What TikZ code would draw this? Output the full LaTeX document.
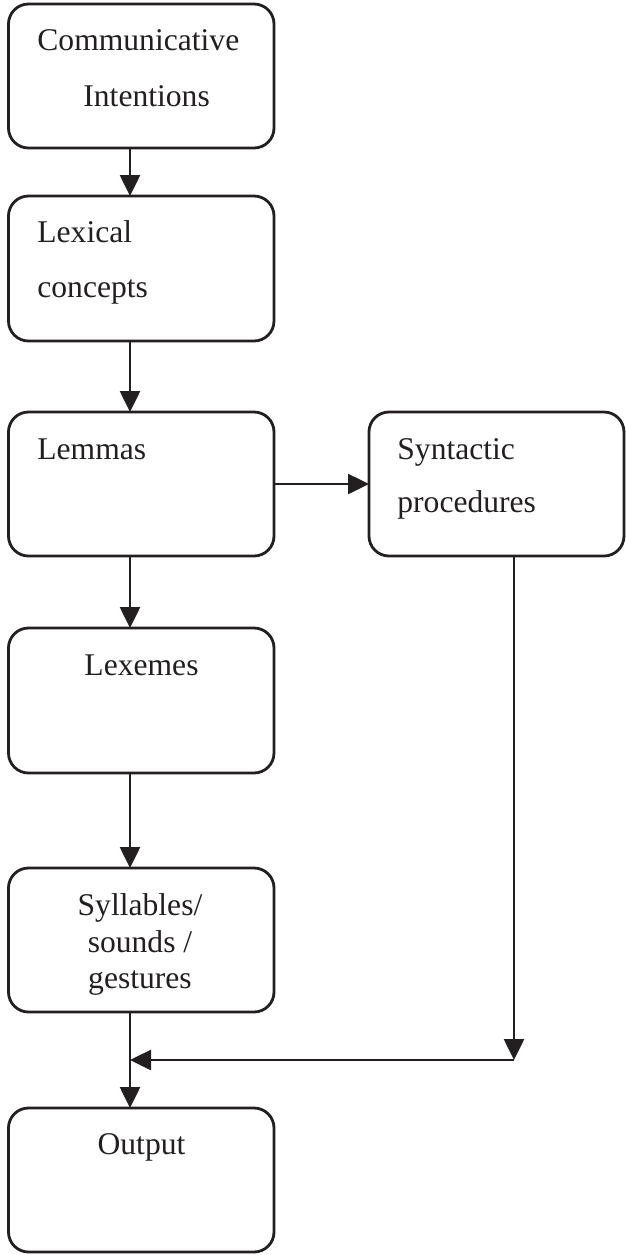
\documentclass[tikz,border=0pt]{standalone}
\usepackage{fontspec}
\setmainfont{Liberation Serif}
\usetikzlibrary{arrows.meta}
\definecolor{ink}{RGB}{35,31,32}
\begin{document}
\begin{tikzpicture}[x=0.5pt,y=-0.5pt,
  box/.style={draw=ink, line width=1.4pt, rounded corners=10pt, minimum width=132.75pt, minimum height=72pt, inner sep=0pt, outer sep=0pt},
  txt/.style={font=\fontsize{15.8}{18}\selectfont, inner sep=0pt, text=ink},
  arr/.style={draw=ink, line width=1.3pt, -{Triangle[length=10.5pt,width=10pt]}},
  ln/.style={draw=ink, line width=1.3pt}]
\useasboundingbox (0,0) rectangle (626,1255);
\coordinate (ax) at (130,0);
\coordinate (sx) at (514,0);
% boxes
\node[box] (ci) at (141.25,76) {};
\node[box, minimum height=72.5pt] (lc) at (141.25,268.5) {};
\node[box] (lem) at (141.25,484) {};
\node[box, minimum width=127.5pt] (syn) at (496.5,484) {};
\node[box, minimum height=72.5pt] (lex) at (141.25,700.5) {};
\node[box] (syl) at (141.25,940) {};
\node[box] (out) at (141.25,1180) {};
% texts
\node[txt, anchor=base west] (t1) at (37,50) {Communicative};
\node[txt, anchor=base west] (t2) at (83,106) {Intentions};
\node[txt, anchor=base west] (t3) at (37,242) {Lexical};
\node[txt, anchor=base west] (t4) at (37,297) {concepts};
\node[txt, anchor=base west] (t5) at (37,459) {Lemmas};
\node[txt, anchor=base west] (t6) at (397,459) {Syntactic};
\node[txt, anchor=base west] (t7) at (397,512) {procedures};
\node[txt, anchor=base] (t8) at (141.5,675) {Lexemes};
\node[txt, anchor=base] (t9) at (140,915) {Syllables/};
\node[txt, anchor=base] (t10) at (140,952) {sounds /};
\node[txt, anchor=base] (t11) at (140,988) {gestures};
\node[txt, anchor=base] (t12) at (141.5,1154) {Output};
% connectors
\coordinate (join) at (514,1060);
\draw[arr] (ci.south -| ax) -- (lc.north -| ax);
\draw[arr] (lc.south -| ax) -- (lem.north -| ax);
\draw[arr] (lem.east) -- (syn.west);
\draw[arr] (lem.south -| ax) -- (lex.north -| ax);
\draw[arr] (lex.south -| ax) -- (syl.north -| ax);
\draw[arr] (syl.south -| ax) -- (out.north -| ax);
\draw[arr] (syn.south -| sx) -- (join);
\draw[arr] (join) -- (join -| ax);
\end{tikzpicture}
\end{document}
